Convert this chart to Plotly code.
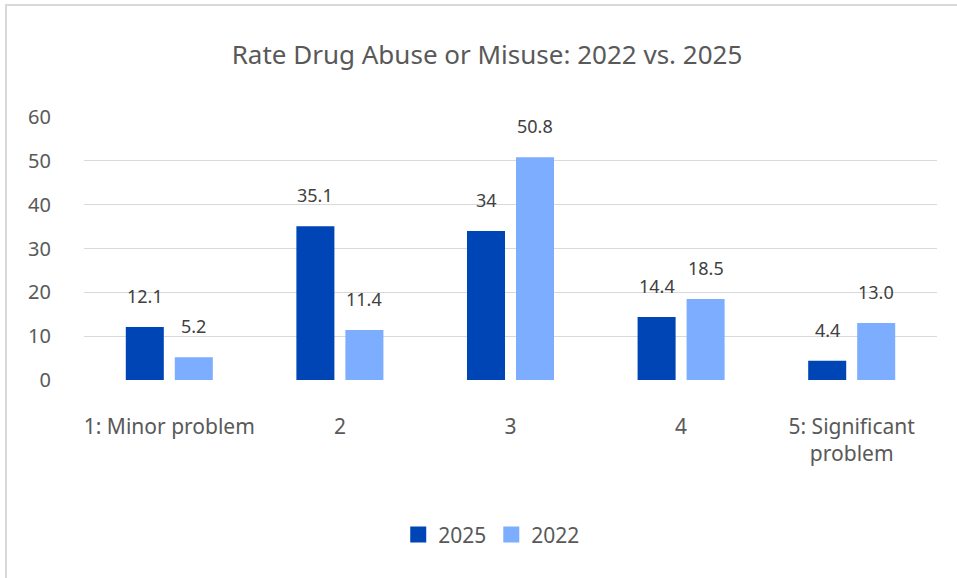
import plotly.graph_objects as go

categories = ["1: Minor problem", "2", "3", "4", "5: Significant<br>problem"]
series_names = ["2025", "2022"]
values_2025 = [12.1, 35.1, 34, 14.4, 4.4]
values_2022 = [5.2, 11.4, 50.8, 18.5, 13.0]
labels_2025 = ["12.1", "35.1", "34", "14.4", "4.4"]
labels_2022 = ["5.2", "11.4", "50.8", "18.5", "13.0"]
y_ticks = [0, 10, 20, 30, 40, 50, 60]

FONT = "Noto Sans"
GREY = "#595959"
COLORS = ["#0045B5", "#7DADFF"]

fig = go.Figure()
for name, vals, color in zip(series_names, [values_2025, values_2022], COLORS):
    fig.add_trace(go.Bar(
        name=name, x=categories, y=vals, showlegend=False,
        marker=dict(color=color, line=dict(width=0)),
    ))
    # legend entry with larger square swatch
    fig.add_trace(go.Scatter(
        name=name, x=[None], y=[None], mode="markers",
        marker=dict(symbol="square", size=22, color=color),
    ))

# data labels above the bars (x given as category index on the category axis)
for vals, labels, shift in [(values_2025, labels_2025, -24.5), (values_2022, labels_2022, 24.5)]:
    for i, (v, t) in enumerate(zip(vals, labels)):
        fig.add_annotation(x=i, y=v, xref="x", yref="y", text=t, showarrow=False,
                           xshift=shift, yshift=17, yanchor="bottom", xanchor="center",
                           font=dict(size=18, color="#404040", family=FONT))

fig.update_layout(
    width=957, height=578,
    paper_bgcolor="white", plot_bgcolor="white",
    margin=dict(l=84, r=20, t=117, b=198, autoexpand=False),
    barmode="group", bargap=0.4256, bargroupgap=0.224,
    font=dict(family=FONT, color=GREY, size=17),
    title=dict(text="Rate Drug Abuse or Misuse: 2022 vs. 2025",
               x=487 / 957, xref="container", xanchor="center",
               y=1 - 55 / 578, yanchor="middle",
               font=dict(size=26, color=GREY, family=FONT)),
    legend=dict(orientation="h", x=0.478, xanchor="center", y=-0.589, yanchor="middle",
                font=dict(size=21, color=GREY, family=FONT), itemsizing="trace",
                traceorder="normal"),
    showlegend=True,
)
fig.update_yaxes(range=[0, 60], tickvals=y_ticks, showgrid=True, gridcolor="#D9D9D9",
                 gridwidth=1, zeroline=False, showline=False, ticks="",
                 ticklabelstandoff=32, tickfont=dict(size=20, color=GREY))
fig.update_xaxes(showgrid=False, showline=False, ticks="", ticklabelstandoff=32,
                 tickfont=dict(size=21, color=GREY))

fig.add_shape(type="rect", xref="paper", yref="paper",
              x0=(6 - 84) / 853, x1=(962 - 84) / 853,
              y0=(380 - 590) / 263, y1=(380 - 5) / 263,
              line=dict(color="#D9D9D9", width=2), fillcolor="rgba(0,0,0,0)", layer="below")

fig.write_html("out.html", config={"displayModeBar": False},
               post_script="document.body.style.margin='0px';")
